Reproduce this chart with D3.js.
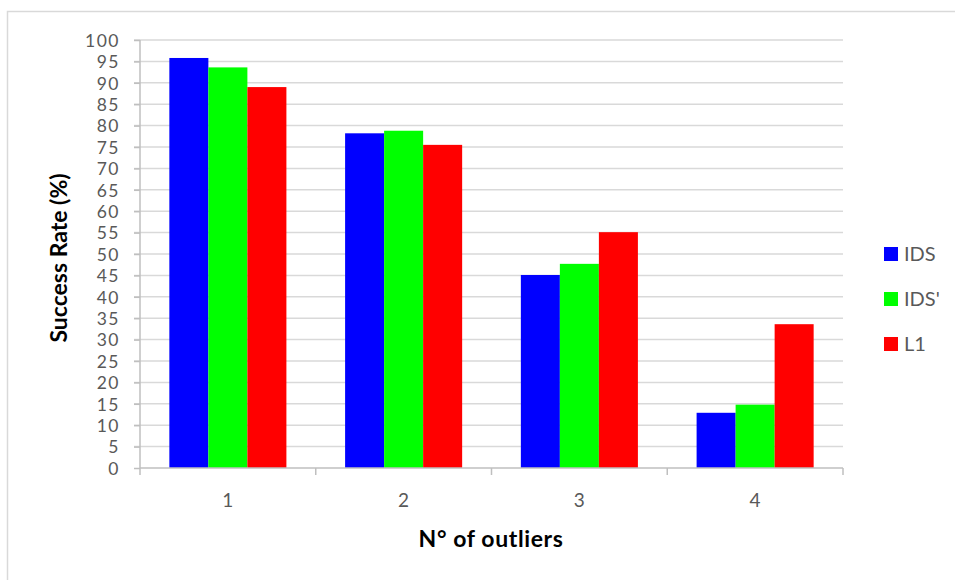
<html>
<head>
<title>Success rate chart</title>
<style>
  body { margin: 0; background: #fff; }
  text { font-family: Lato, "Open Sans", sans-serif; }
</style>
</head>
<body>
<svg id="container" width="955" height="580"></svg>
<script src="https://cdn.jsdelivr.net/npm/d3@7"></script>
<script>
    let categories = ["1", "2", "3", "4"]
    let seriesNames = ["IDS", "IDS'", "L1"]
    let idsValues = [95.8, 78.2, 45.1, 12.9]
    let idsPrimeValues = [93.6, 78.8, 47.7, 14.8]
    let l1Values = [89.0, 75.5, 55.1, 33.6]
    let yTicks = d3.range(0, 101, 5)
    let colors = ["#0000ff", "#00ff00", "#ff0000"]

    let seriesValues = [idsValues, idsPrimeValues, l1Values]
    let data = categories.map((c, i) => ({
        category: c,
        values: seriesNames.map((s, j) => ({ series: s, value: seriesValues[j][i] }))
    }))

    let svg = d3.select("#container")

    // outer chart border
    svg.append("rect")
        .attr("x", 7.5).attr("y", 11.5)
        .attr("width", 960).attr("height", 600)
        .attr("fill", "none")
        .attr("stroke", "#d9d9d9")
        .attr("stroke-width", 1.5)

    let plotLeft = 140, plotRight = 843, plotTop = 40, plotBottom = 468

    let x = d3.scaleBand()
        .domain(categories)
        .range([plotLeft, plotRight])
        .paddingInner(0.334)
        .paddingOuter(0.167)
    let xOuter = d3.scaleBand()
        .domain(categories)
        .range([plotLeft, plotRight])
    let xInner = d3.scaleBand()
        .domain(seriesNames)
        .range([0, x.bandwidth()])
    let y = d3.scaleLinear()
        .domain([0, 100])
        .range([plotBottom, plotTop])
    let color = d3.scaleOrdinal()
        .domain(seriesNames)
        .range(colors)

    // gridlines
    svg.append("g")
        .selectAll("line")
        .data(yTicks.filter(d => d > 0))
        .enter()
        .append("line")
        .attr("x1", plotLeft - 6).attr("x2", plotRight)
        .attr("y1", d => y(d)).attr("y2", d => y(d))
        .attr("stroke", "#d9d9d9")
        .attr("stroke-width", 1.5)

    // y axis
    let yAxis = svg.append("g")
        .attr("transform", `translate(${plotLeft},0)`)
        .call(d3.axisLeft(y).tickValues(yTicks).tickSize(6).tickPadding(14))
    yAxis.select(".domain").attr("stroke", "#bfbfbf").attr("stroke-width", 1.5)
        .attr("d", `M0,${plotTop}V${plotBottom + 7}`)
    yAxis.selectAll(".tick line").attr("stroke", "#bfbfbf").attr("stroke-width", 1.5)
    yAxis.selectAll(".tick text")
        .attr("fill", "#595959")
        .style("font-size", "17.5px")
        .style("letter-spacing", "1.5px")
        .style("font-family", "Lato, sans-serif")
        .attr("dy", "0.36em")

    // bars
    let groups = svg.append("g")
        .selectAll(".group")
        .data(data)
        .enter()
        .append("g")
        .attr("transform", d => `translate(${x(d.category)},0)`)
    groups.selectAll("rect")
        .data(d => d.values)
        .enter()
        .append("rect")
        .attr("x", d => xInner(d.series))
        .attr("width", xInner.bandwidth())
        .attr("y", d => y(d.value))
        .attr("height", d => y(0) - y(d.value))
        .attr("fill", d => color(d.series))

    // x axis
    let xAxis = svg.append("g")
        .attr("transform", `translate(0,${plotBottom})`)
        .call(d3.axisBottom(xOuter).tickSize(0).tickPadding(26))
    xAxis.select(".domain").attr("stroke", "#bfbfbf").attr("stroke-width", 1.5)
        .attr("d", `M${plotLeft},0H${plotRight}`)
    xAxis.selectAll(".tick text")
        .attr("fill", "#595959")
        .style("font-size", "19px")
        .style("font-family", "Lato, sans-serif")
    xAxis.selectAll(".boundary")
        .data(categories.slice(1).concat(["end"]))
        .enter()
        .append("line")
        .attr("class", "boundary")
        .attr("x1", (d, i) => i < 3 ? xOuter(d) : plotRight)
        .attr("x2", (d, i) => i < 3 ? xOuter(d) : plotRight)
        .attr("y1", 0).attr("y2", 7)
        .attr("stroke", "#bfbfbf")
        .attr("stroke-width", 1.5)

    // axis titles
    svg.append("text")
        .attr("x", 491)
        .attr("y", 547)
        .attr("text-anchor", "middle")
        .style("font-size", "23px")
        .style("letter-spacing", "0.6px")
        .style("font-weight", "bold")
        .text("N° of outliers")
    svg.append("text")
        .attr("transform", `translate(67,${(plotTop + plotBottom) / 2 + 4}) rotate(-90)`)
        .attr("text-anchor", "middle")
        .style("font-size", "23px")
        .style("font-weight", "bold")
        .text("Success Rate (%)")

    // legend
    let legend = svg.append("g")
        .selectAll(".legend")
        .data(seriesNames)
        .enter()
        .append("g")
        .attr("transform", (d, i) => `translate(884,${247 + i * 45})`)
    legend.append("rect")
        .attr("width", 14).attr("height", 14)
        .attr("fill", d => color(d))
    legend.append("text")
        .attr("x", 20).attr("y", 7)
        .attr("dy", "0.36em")
        .attr("fill", "#595959")
        .style("font-size", "20px")
        .text(d => d)
</script>
</body>
</html>
